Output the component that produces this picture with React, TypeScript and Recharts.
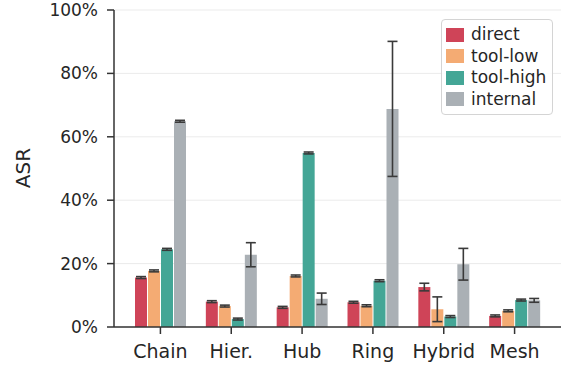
import React from "react";
import {
  BarChart,
  Bar,
  XAxis,
  YAxis,
  CartesianGrid,
  Legend,
  ErrorBar,
} from "recharts";

// attack success rate (%) per topology, with +/- error
const topologies = ["Chain", "Hier.", "Hub", "Ring", "Hybrid", "Mesh"];

const direct = [15.6, 8.0, 6.2, 7.8, 12.6, 3.5];
const directErr = [0.3, 0.3, 0.3, 0.3, 1.2, 0.3];

const toolLow = [17.7, 6.6, 16.1, 6.7, 5.6, 5.1];
const toolLowErr = [0.3, 0.3, 0.3, 0.3, 3.9, 0.3];

const toolHigh = [24.5, 2.5, 54.9, 14.6, 3.3, 8.5];
const toolHighErr = [0.3, 0.3, 0.3, 0.3, 0.3, 0.3];

const internal = [64.9, 22.8, 8.9, 68.8, 19.8, 8.4];
const internalErr = [0.3, 3.8, 1.8, 21.3, 5.0, 0.6];

const yTicks = [0, 20, 40, 60, 80, 100];

const series = [
  { key: "direct", label: "direct", color: "#cf4458" },
  { key: "toolLow", label: "tool-low", color: "#f4ab73" },
  { key: "toolHigh", label: "tool-high", color: "#44a696" },
  { key: "internal", label: "internal", color: "#aab0b5" },
];

const data = topologies.map((name, i) => ({
  name,
  direct: direct[i],
  directErr: directErr[i],
  toolLow: toolLow[i],
  toolLowErr: toolLowErr[i],
  toolHigh: toolHigh[i],
  toolHighErr: toolHighErr[i],
  internal: internal[i],
  internalErr: internalErr[i],
}));

const INK = "#262626";
const SPINE = "#333333";
const FONT = "DejaVu Sans, sans-serif";

function LegendBox() {
  return (
    <div
      style={{
        border: "1px solid #d4d4d4",
        borderRadius: 4,
        background: "rgba(255,255,255,0.85)",
        padding: "4px 0 4px 4px",
        fontFamily: FONT,
        fontSize: 17,
        color: INK,
        boxSizing: "border-box",
        textAlign: "left",
      }}
    >
      {series.map((s) => (
        <div
          key={s.key}
          style={{ display: "flex", alignItems: "center", height: 21.5 }}
        >
          <span
            style={{
              display: "inline-block",
              width: 18,
              height: 14,
              background: s.color,
              marginRight: 7,
            }}
          />
          <span style={{ lineHeight: "21px" }}>{s.label}</span>
        </div>
      ))}
    </div>
  );
}

function AsrLabel() {
  return (
    <text
      x={23}
      y={168}
      transform="rotate(-90, 23, 168)"
      textAnchor="middle"
      dominantBaseline="central"
      fill={INK}
      fontSize={20}
      fontFamily={FONT}
    >
      ASR
    </text>
  );
}

export default function App() {
  return (
    <div style={{ position: "absolute", left: 0, top: 0, background: "#fff" }}>
      <BarChart
        width={562}
        height={367}
        data={data}
        barSize={12}
        barGap={1}
        margin={{ top: 10, right: 1, bottom: 0, left: 0 }}
      >
        <CartesianGrid vertical={false} stroke="#ebebeb" strokeWidth={1} />
        <XAxis
          dataKey="name"
          height={40}
          interval={0}
          padding={{ left: 11, right: 11 }}
          tickSize={7}
          tickMargin={11}
          tick={{ fill: INK, fontSize: 19, fontFamily: FONT }}
          tickLine={{ stroke: SPINE, strokeWidth: 1.5 }}
          axisLine={{ stroke: SPINE, strokeWidth: 1.5 }}
        />
        <XAxis
          xAxisId="top"
          dataKey="name"
          orientation="top"
          height={0}
          tick={false}
          tickLine={false}
          axisLine={{ stroke: SPINE, strokeWidth: 1.5 }}
        />
        <YAxis
          width={114}
          domain={[0, 100]}
          ticks={yTicks}
          interval={0}
          tickFormatter={(v: number) => `${v}%`}
          tickSize={7}
          tickMargin={9}
          tick={{ fill: INK, fontSize: 17, fontFamily: FONT }}
          tickLine={{ stroke: SPINE, strokeWidth: 1.5 }}
          axisLine={{ stroke: SPINE, strokeWidth: 1.5 }}
          label={<AsrLabel />}
        />
        <YAxis
          yAxisId="right"
          orientation="right"
          width={0}
          domain={[0, 100]}
          tick={false}
          tickLine={false}
          axisLine={{ stroke: SPINE, strokeWidth: 1.5 }}
        />
        <Legend
          verticalAlign="middle"
          align="center"
          layout="horizontal"
          content={<LegendBox />}
          wrapperStyle={{ top: 19, left: 441, width: 112 }}
        />
        {series.map((s) => (
          <Bar
            key={s.key}
            dataKey={s.key}
            name={s.label}
            fill={s.color}
            isAnimationActive={false}
          >
            <ErrorBar
              dataKey={`${s.key}Err`}
              width={5}
              stroke="#3a3a3a"
              strokeWidth={1.6}
              direction="y"
            />
          </Bar>
        ))}
      </BarChart>
    </div>
  );
}
